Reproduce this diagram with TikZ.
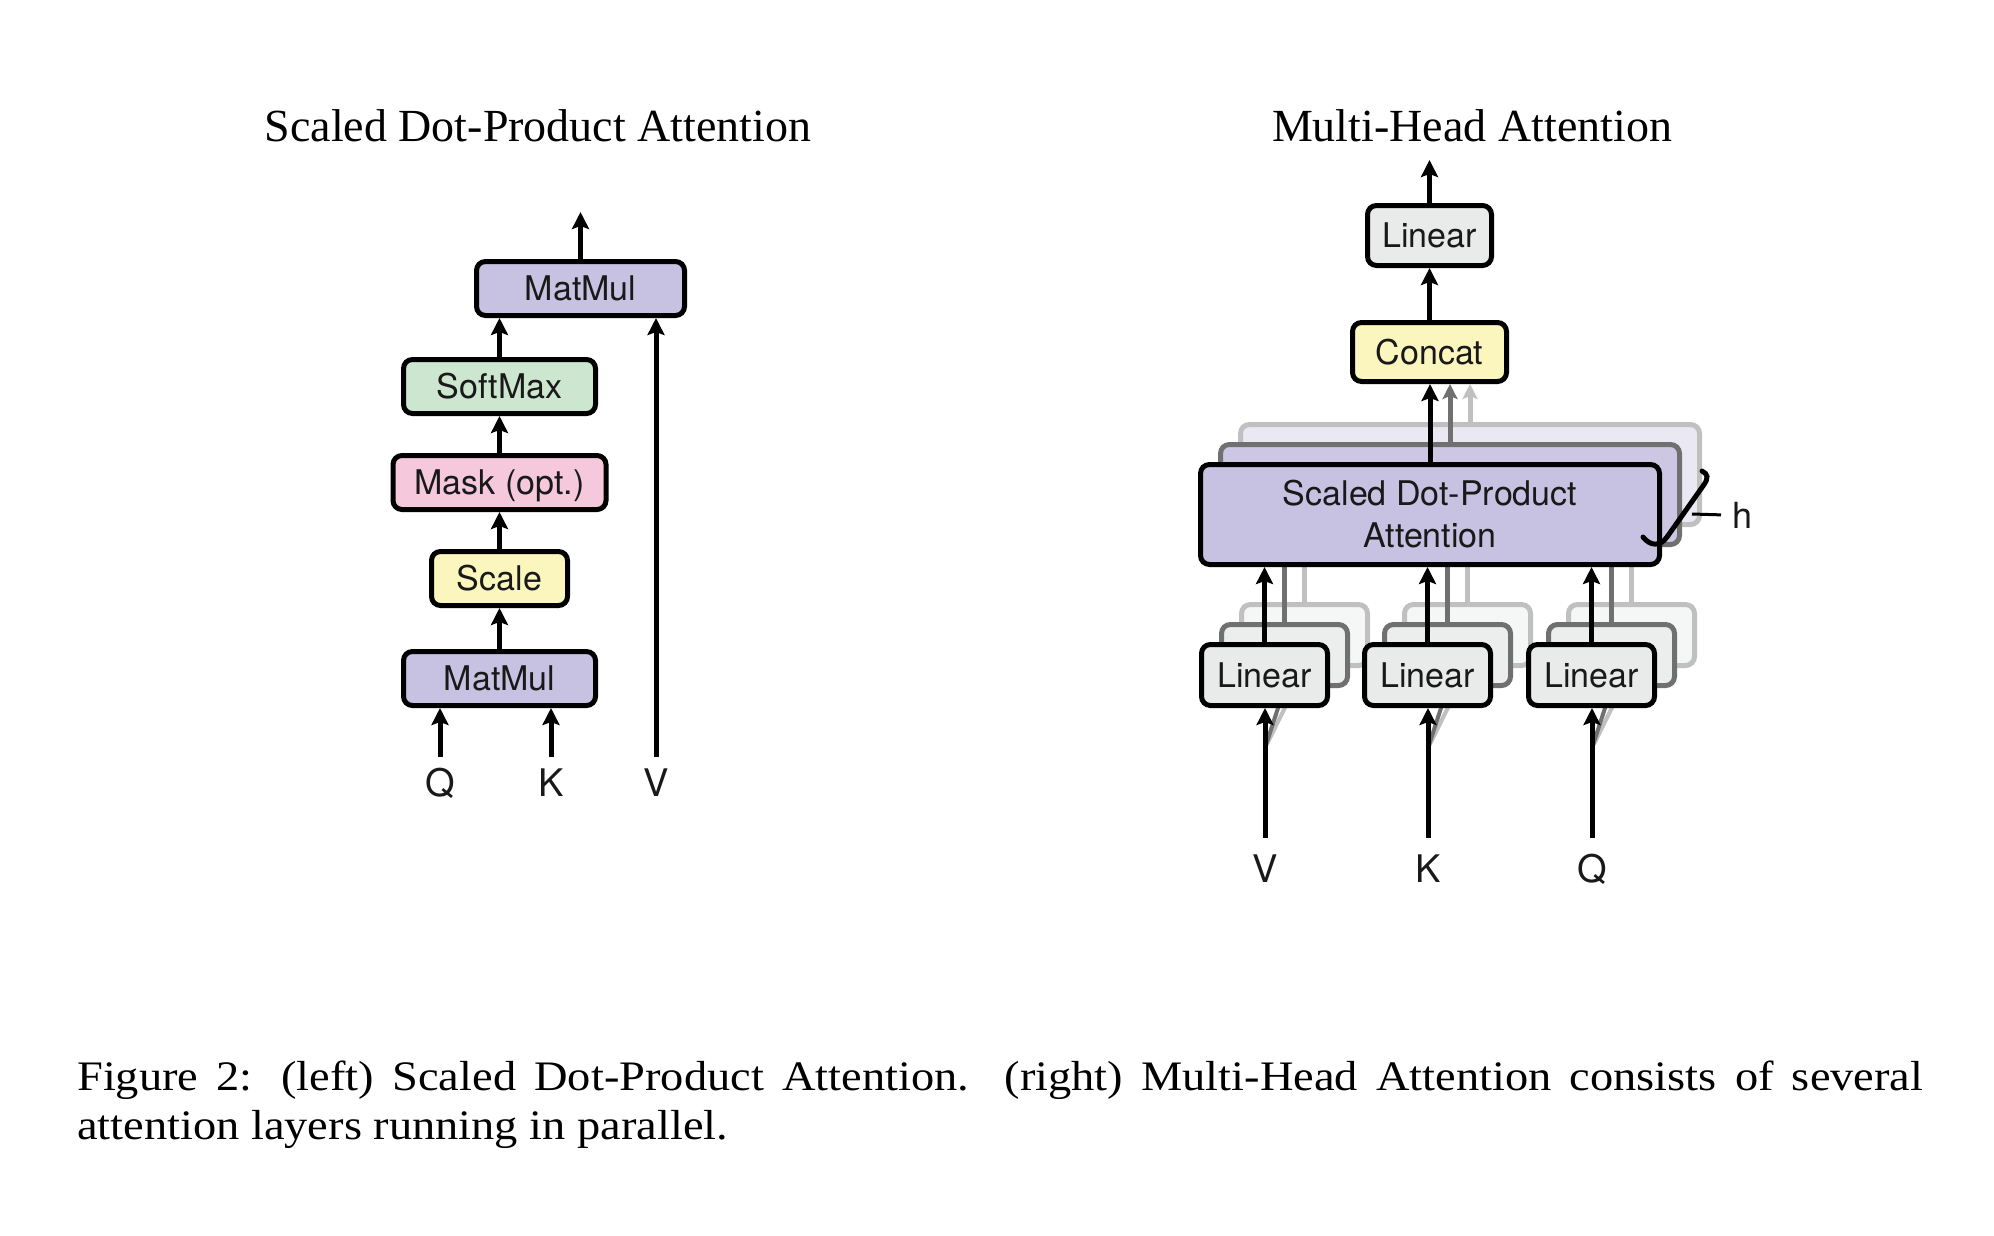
\documentclass[tikz,border=0pt]{standalone}
\usepackage{fontspec}
\setmainfont{Liberation Serif}
\newfontfamily\hvfont{TeX Gyre Heros}
\newfontfamily\capfont[FakeStretch=1.105]{Liberation Serif}
\usetikzlibrary{arrows.meta}
\definecolor{lav}{RGB}{199,193,226}
\definecolor{smgreen}{RGB}{205,230,207}
\definecolor{maskpink}{RGB}{246,200,220}
\definecolor{scyellow}{RGB}{250,246,190}
\definecolor{lingray}{RGB}{232,235,234}
\definecolor{gone}{RGB}{112,112,112}
\definecolor{gtwo}{RGB}{192,192,192}
\definecolor{linone}{RGB}{236,237,237}
\definecolor{lintwo}{RGB}{245,246,246}
\definecolor{attone}{RGB}{205,199,228}
\definecolor{atttwo}{RGB}{234,232,242}
\definecolor{txt}{RGB}{25,25,25}
\begin{document}
\begin{tikzpicture}[x=1pt,y=-1pt,
  box/.style={draw=black, line width=5pt, rounded corners=9pt, inner sep=0pt,
    font=\hvfont\fontsize{34}{42}\selectfont, text=txt, align=center},
  sbox/.style={box, text height=24.5pt, text depth=0pt},
  arr/.style={line width=5pt, -{Stealth[length=17pt,width=17pt,inset=3pt]}},
  garr/.style={line width=5pt, -{Stealth[length=15pt,width=15pt,inset=3pt]}},
  dline/.style={line width=4pt},
  lbl/.style={font=\hvfont\fontsize{38}{40}\selectfont, inner sep=0pt, text height=27pt, text depth=0pt, anchor=base, text=txt},
  ttl/.style={font=\fontsize{46}{52}\selectfont, anchor=base, inner sep=0pt},
  captext/.style={anchor=base west, inner sep=0pt, font=\capfont\fontsize{42}{47}\selectfont},
  lin/.style={sbox, minimum width=126pt, minimum height=61pt},
  att/.style={box, minimum width=459pt, minimum height=100pt},
]
\useasboundingbox (0,0) rectangle (1994,1236);
\fill[white] (0,0) rectangle (1994,1236);

% titles
\node[ttl] (t1) at (538,142) {Scaled Dot-Product Attention};
\node[ttl] (t2) at (1472,142) {Multi-Head Attention};

% ---------------- left: scaled dot-product attention
\node[sbox, fill=lav, minimum width=208pt, minimum height=54pt] (mm2) at (580.5,288.5) {MatMul};
\node[sbox, fill=smgreen, minimum width=192pt, minimum height=54pt] (soft) at (499.5,386.5) {SoftMax};
\node[sbox, fill=maskpink, minimum width=213pt, minimum height=54pt] (mask) at (499.5,482.5) {Mask (opt.)};
\node[sbox, fill=scyellow, minimum width=136pt, minimum height=54pt] (scale) at (499.5,578.5) {Scale};
\node[sbox, fill=lav, minimum width=192pt, minimum height=54pt] (mm1) at (499.5,678.5) {MatMul};
\node[lbl] (lq) at (440,796) {Q};
\node[lbl] (lk) at (551,796) {K};
\node[lbl] (lv) at (656,796) {V};
\coordinate (outL) at (580.5,212);

\draw[arr] ([yshift=12pt]lq.north) -- (lq.north |- mm1.south);
\draw[arr] ([yshift=12pt]lk.north) -- (lk.north |- mm1.south);
\draw[arr] ([yshift=12pt]lv.north) -- (lv.north |- mm2.south);
\draw[arr] (mm1.north) -- (scale.south);
\draw[arr] (scale.north) -- (mask.south);
\draw[arr] (mask.north) -- (soft.south);
\draw[arr] (soft.north) -- (soft.north |- mm2.south);
\draw[arr] (mm2.north) -- (outL);

% ---------------- right: multi-head attention
\node[sbox, fill=lingray, minimum width=124pt, minimum height=60pt] (linout) at (1429.5,235.5) {Linear};
\node[sbox, fill=scyellow, minimum width=154pt, minimum height=59pt] (concat) at (1429.5,352) {Concat};
\coordinate (outR) at (1429.5,160);
\draw[arr] (concat.north) -- (linout.south);
\draw[arr] (linout.north) -- (outR);

\node[lbl] (rv) at (1265,882) {V};
\node[lbl] (rk) at (1428,882) {K};
\node[lbl] (rq) at (1592,882) {Q};
\coordinate (jv) at (1265,748);
\coordinate (jk) at (1428,748);
\coordinate (jq) at (1592,748);

% layer 3 (back)
\node[lin, draw=gtwo, fill=lintwo] (lv2) at (1304.5,635) {};
\node[lin, draw=gtwo, fill=lintwo] (lk2) at (1467.5,635) {};
\node[lin, draw=gtwo, fill=lintwo] (lq2) at (1631.5,635) {};
\node[att, draw=gtwo, fill=atttwo] (at2) at (1470,474.5) {};
\draw[dline, gtwo] (jv) -- (lv2.south);
\draw[dline, gtwo] (jk) -- (lk2.south);
\draw[dline, gtwo] (jq) -- (lq2.south);
\draw[garr, gtwo] (lv2.north) -- (lv2.north |- at2.south);
\draw[garr, gtwo] (lk2.north) -- (lk2.north |- at2.south);
\draw[garr, gtwo] (lq2.north) -- (lq2.north |- at2.south);
\draw[garr, gtwo] (at2.north) -- (at2.north |- concat.south);

% layer 2
\node[lin, draw=gone, fill=linone] (lv1) at (1284.5,655) {};
\node[lin, draw=gone, fill=linone] (lk1) at (1447.5,655) {};
\node[lin, draw=gone, fill=linone] (lq1) at (1611.5,655) {};
\node[att, draw=gone, fill=attone] (at1) at (1450,494.5) {};
\draw[dline, gone] (jv) -- (lv1.south);
\draw[dline, gone] (jk) -- (lk1.south);
\draw[dline, gone] (jq) -- (lq1.south);
\draw[garr, gone] (lv1.north) -- (lv1.north |- at1.south);
\draw[garr, gone] (lk1.north) -- (lk1.north |- at1.south);
\draw[garr, gone] (lq1.north) -- (lq1.north |- at1.south);
\draw[garr, gone] (at1.north) -- (at1.north |- concat.south);

% layer 1 (front)
\node[lin, fill=lingray] (lv0) at (1264.5,675) {Linear};
\node[lin, fill=lingray] (lk0) at (1427.5,675) {Linear};
\node[lin, fill=lingray] (lq0) at (1591.5,675) {Linear};
\node[att, fill=lav] (at0) at (1430,514.5) {Scaled Dot-Product\\Attention};
\draw[arr] ([yshift=17pt]rv.north) -- (rv.north |- lv0.south);
\draw[arr] ([yshift=17pt]rk.north) -- (rk.north |- lk0.south);
\draw[arr] ([yshift=17pt]rq.north) -- (rq.north |- lq0.south);
\draw[arr] (lv0.north) -- (lv0.north |- at0.south);
\draw[arr] (lk0.north) -- (lk0.north |- at0.south);
\draw[arr] (lq0.north) -- (lq0.north |- at0.south);
\draw[arr] (at0.north) -- (at0.north |- concat.south);

% h bracket
\node[font=\hvfont\fontsize{36}{40}\selectfont, inner sep=0pt, anchor=base west, text=txt] (hl) at (1732,528) {h};
\draw[line width=5pt, line cap=round] (1643,537) .. controls (1650,546) and (1660,547) .. (1667,537)
  -- (1703,486) .. controls (1709,478) and (1708,474) .. (1702,471);
\draw[line width=3pt] (1692,514) -- ([xshift=-11pt]hl.west);

% caption
\node[captext] (cap1) at (77,1090)
  {\makebox[1846pt][s]{Figure 2: (left) Scaled Dot-Product Attention. (right) Multi-Head Attention consists of several}};
\node[captext] (cap2) at (77,1139) {attention layers running in parallel.};
\end{tikzpicture}
\end{document}
